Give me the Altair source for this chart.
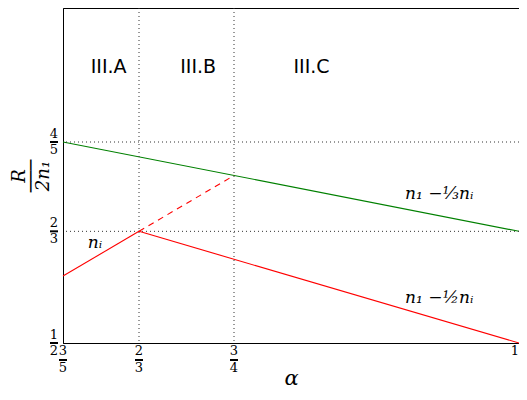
import altair as alt
import pandas as pd

# ---- data ----
green_alpha = [3/5, 1.0]
green_val = [4/5, 2/3]
red1_alpha = [3/5, 2/3]
red1_val = [3/5, 2/3]
red2_alpha = [2/3, 1.0]
red2_val = [2/3, 1/2]
dash_alpha = [2/3, 3/4]
dash_val = [2/3, 3/4]

vgrid = [2/3, 3/4]
hgrid = [2/3, 4/5]

xtick_vals = [3/5, 2/3, 3/4, 1.0]
xtick_num = ["3", "2", "3", "1"]
xtick_den = ["5", "3", "4", ""]
ytick_vals = [1/2, 2/3, 4/5]
ytick_num = ["1", "2", "4"]
ytick_den = ["2", "3", "5"]

region_labels = ["III.A", "III.B", "III.C"]
region_x = [0.640, 0.7186, 0.818]
region_y = [0.912, 0.912, 0.912]

line_labels = ["n₁ −⅓nᵢ", "n₁ −½nᵢ", "nᵢ"]
line_label_x = [0.93, 0.93, 0.628]
line_label_y = [0.722, 0.567, 0.65]

W, H = 456, 335
xs = alt.Scale(domain=[0.6, 1.0], nice=False, zero=False)
ys = alt.Scale(domain=[0.5, 1.0], nice=False, zero=False)

def line_df(a, v):
    return pd.DataFrame({"alpha": a, "val": v})

xenc = alt.X("alpha:Q", scale=xs,
             axis=alt.Axis(labels=False, ticks=False, grid=False, title="α",
                           titleFont="DejaVu Serif", titleFontStyle="italic",
                           titleFontSize=21, titleFontWeight="normal",
                           titlePadding=24, domainColor="black"))
yenc = alt.Y("val:Q", scale=ys,
             axis=alt.Axis(labels=False, ticks=False, grid=False,
                           title=["R", "───", "2n₁"],
                           titleFont="DejaVu Serif", titleFontStyle="italic",
                           titleFontSize=18, titleFontWeight="normal",
                           titleLineHeight=12, titlePadding=11,
                           domainColor="black"))

green = alt.Chart(line_df(green_alpha, green_val)).mark_line(color="green", strokeWidth=1.1).encode(x=xenc, y=yenc)
red1 = alt.Chart(line_df(red1_alpha, red1_val)).mark_line(color="red", strokeWidth=1.1).encode(x="alpha:Q", y="val:Q")
red2 = alt.Chart(line_df(red2_alpha, red2_val)).mark_line(color="red", strokeWidth=1.1).encode(x="alpha:Q", y="val:Q")
dash = alt.Chart(line_df(dash_alpha, dash_val)).mark_line(color="red", strokeWidth=1.1, strokeDash=[6, 5]).encode(x="alpha:Q", y="val:Q")

vg = alt.Chart(pd.DataFrame({"alpha": vgrid})).mark_rule(color="#333", strokeDash=[1, 3], strokeWidth=1).encode(x="alpha:Q")
hg = alt.Chart(pd.DataFrame({"val": hgrid})).mark_rule(color="#333", strokeDash=[1, 3], strokeWidth=1).encode(y="val:Q")

reg = alt.Chart(pd.DataFrame({"alpha": region_x, "val": region_y, "t": region_labels})).mark_text(
    font="DejaVu Sans", fontSize=19, color="black").encode(x="alpha:Q", y="val:Q", text="t:N")

ll = alt.Chart(pd.DataFrame({"alpha": line_label_x, "val": line_label_y, "t": line_labels})).mark_text(
    font="DejaVu Serif", fontStyle="italic", fontSize=17, color="black").encode(x="alpha:Q", y="val:Q", text="t:N")

# fraction tick labels
xt = pd.DataFrame({"alpha": xtick_vals, "num": xtick_num, "den": xtick_den})
xnum = alt.Chart(xt[xt["den"] != ""]).mark_text(font="DejaVu Serif", fontSize=13, baseline="middle").encode(
    x="alpha:Q", y=alt.value(H + 8), text="num:N")
xlast = alt.Chart(xt[xt["den"] == ""]).mark_text(font="DejaVu Serif", fontSize=13, baseline="middle", align="right").encode(
    x="alpha:Q", y=alt.value(H + 8), text="num:N")
xden = alt.Chart(xt).mark_text(font="DejaVu Serif", fontSize=13, baseline="middle").encode(
    x="alpha:Q", y=alt.value(H + 25), text="den:N")
xbar = alt.Chart(xt[xt["den"] != ""]).mark_rule(color="black", strokeWidth=2, xOffset=-4, x2Offset=4).encode(
    x="alpha:Q", x2="alpha:Q", y=alt.value(H + 17))

yt = pd.DataFrame({"val": ytick_vals, "num": ytick_num, "den": ytick_den})
ynum = alt.Chart(yt).mark_text(font="DejaVu Serif", fontSize=13, baseline="middle", dy=-8).encode(
    y="val:Q", x=alt.value(-9), text="num:N")
yden = alt.Chart(yt).mark_text(font="DejaVu Serif", fontSize=13, baseline="middle", dy=8).encode(
    y="val:Q", x=alt.value(-9), text="den:N")
ybar = alt.Chart(yt).mark_rule(color="black", strokeWidth=2).encode(
    y="val:Q", y2="val:Q", x=alt.value(-13), x2=alt.value(-5))

chart = alt.layer(green, vg, hg, red1, red2, dash, reg, ll, xnum, xlast, xden, xbar, ynum, yden, ybar).properties(
    width=W, height=H,
    autosize=alt.AutoSizeParams(type="none"),
    padding={"left": 55, "top": 0, "right": 0, "bottom": 49},
).configure_view(stroke="black", strokeWidth=1).configure_axis(domainWidth=1)

chart.save("out.html", embed_options={"renderer": "svg", "actions": False})
